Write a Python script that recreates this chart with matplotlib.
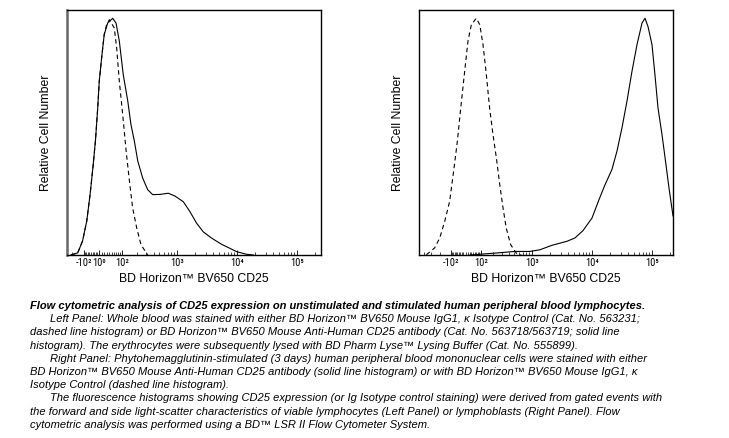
import numpy as np
import matplotlib
matplotlib.use('Agg')
import matplotlib.pyplot as plt
from matplotlib import font_manager

plt.rcParams['font.family'] = ['Liberation Sans', 'DejaVu Sans']


def find_narrow_font():
    # look for any condensed / narrow sans face on the system
    for fam in ['Liberation Sans Narrow', 'Noto Sans Condensed', 'DejaVu Sans Condensed',
                'Roboto Condensed', 'Open Sans Condensed']:
        try:
            path = font_manager.findfont(font_manager.FontProperties(family=fam),
                                         fallback_to_default=False)
            return font_manager.FontProperties(fname=path)
        except ValueError:
            pass
    for fam in ['Noto Sans', 'DejaVu Sans', 'Roboto', 'Open Sans']:
        path = font_manager.findfont(font_manager.FontProperties(family=fam, stretch='condensed'))
        if 'ondensed' in path or 'Narrow' in path:
            return font_manager.FontProperties(fname=path)
    return None


narrow = find_narrow_font()

# Left panel (unstimulated whole blood), fluorescence vs relative count
left_solid_x = [-208, -146, -108, -78, -56, -38, -22, -8, 1, 10, 20, 34, 55, 70, 86,
                107, 134, 156, 181, 210, 258, 316, 386, 515, 711, 921, 1270, 1640,
                2120, 2730, 3780, 5550, 7620, 9860, 14500, 18600]
left_solid_y = [0, 0.9, 5.9, 14.4, 25.5, 36.8, 48.2, 62.1, 73.5, 83.2, 93.1, 98.0, 100,
                98.0, 90.4, 76.2, 65.1, 55.0, 48.2, 39.7, 32.5, 27.6, 25.5, 25.6, 26.1,
                24.9, 22.5, 18.3, 13.4, 9.8, 7.1, 4.5, 2.8, 1.4, 0.3, 0]
left_dash_x = [-208, -146, -108, -78, -56, -38, -22, -8, 1, 10, 20, 30, 41, 62, 73, 86,
               104, 124, 145, 168, 201, 240, 316]
left_dash_y = [0, 0.9, 5.9, 14.4, 25.5, 36.8, 48.2, 62.1, 73.5, 83.2, 93.1, 97.5, 99.4,
               95.9, 87.5, 73.5, 59.3, 43.9, 31.3, 19.9, 11.4, 4.4, 0]

# Right panel (PHA-stimulated PBMC)
right_dash_x = [-368, -254, -198, -150, -108, -74, -50, -26, 1, 20, 40, 70, 93, 116,
                141, 168, 199, 233, 271, 312, 357, 428, 536, 655]
right_dash_y = [0.1, 3.0, 7.2, 14.2, 22.7, 36.8, 48.0, 62.1, 77.6, 90.3, 97.3, 100,
                97.3, 88.8, 76.2, 62.1, 50.8, 41.0, 29.7, 19.9, 11.4, 4.4, 0.8, 0]
right_solid_x = [32, 219, 510, 914, 1350, 2150, 3830, 5200, 7080, 9990, 13100, 16500,
                 21500, 26100, 31600, 38300, 46400, 56300, 68200, 76500, 85900, 100000,
                 112000, 126000, 147000, 171000, 192000, 224000]
right_solid_y = [0, 0.8, 1.5, 1.5, 2.2, 4.1, 5.8, 7.2, 10.3, 15.6, 23.4, 29.7, 36.1,
                 43.9, 53.7, 65.0, 77.6, 88.9, 98.0, 100, 96.5, 88.9, 76.2, 62.1, 50.8,
                 38.2, 28.3, 16.5]

left_ticks = [-100, 0, 100, 1000, 10000, 100000]
right_ticks = [-100, 100, 1000, 10000, 100000]
if narrow is not None:
    left_labels = ['-10²', '10⁰', '10²', '10³', '10⁴', '10⁵']
    right_labels = ['-10²', '10²', '10³', '10⁴', '10⁵']
    tick_size = 7.5
else:
    plt.rcParams['mathtext.fontset'] = 'custom'
    plt.rcParams['mathtext.rm'] = 'Liberation Sans'
    left_labels = ['-$10^{2}$', '$10^{0}$', '$10^{2}$', '$10^{3}$', '$10^{4}$', '$10^{5}$']
    right_labels = ['-$10^{2}$', '$10^{2}$', '$10^{3}$', '$10^{4}$', '$10^{5}$']
    tick_size = 6.0

x_label = 'BD Horizon™ BV650 CD25'
y_label = 'Relative Cell Number'

caption = [
    ('Flow cytometric analysis of CD25 expression on unstimulated and stimulated human peripheral blood lymphocytes.', False, True),
    ('Left Panel: Whole blood was stained with either BD Horizon™ BV650 Mouse IgG1, κ Isotype Control (Cat. No. 563231;', True, False),
    ('dashed line histogram) or BD Horizon™ BV650 Mouse Anti-Human CD25 antibody (Cat. No. 563718/563719; solid line', False, False),
    ('histogram). The erythrocytes were subsequently lysed with BD Pharm Lyse™ Lysing Buffer (Cat. No. 555899).', False, False),
    ('Right Panel: Phytohemagglutinin-stimulated (3 days) human peripheral blood mononuclear cells were stained with either', True, False),
    ('BD Horizon™ BV650 Mouse Anti-Human CD25 antibody (solid line histogram) or with BD Horizon™ BV650 Mouse IgG1, κ', False, False),
    ('Isotype Control (dashed line histogram).', False, False),
    ('The fluorescence histograms showing CD25 expression (or Ig Isotype control staining) were derived from gated events with', True, False),
    ('the forward and side light-scatter characteristics of viable lymphocytes (Left Panel) or lymphoblasts (Right Panel). Flow', False, False),
    ('cytometric analysis was performed using a BD™ LSR II Flow Cytometer System.', False, False),
]


def minor_positions():
    pos = [s * m * 10 for s in (-1, 1) for m in range(1, 10)]
    for k in (2, 3, 4, 5):
        pos += [s * m * 10 ** k for s in (-1, 1) for m in range(2, 10)]
    return pos


def logicle_like(cp, cn):
    # asinh display, separate width for the negative side
    def fwd(x):
        x = np.asarray(x, dtype=float)
        return np.where(x < 0, np.arcsinh(x / cn), np.arcsinh(x / cp))

    def inv(u):
        u = np.asarray(u, dtype=float)
        return np.where(u < 0, cn * np.sinh(u), cp * np.sinh(u))
    return fwd, inv


def setup_panel(ax, cp, cn, xlim, ticks, labels):
    ax.set_xscale('function', functions=logicle_like(cp, cn))
    ax.set_xlim(*xlim)
    ax.set_ylim(0, 103.5)
    ax.set_yticks([])
    ax.set_xticks(ticks)
    ax.set_xticklabels(labels)
    ax.set_xticks([p for p in minor_positions() if xlim[0] < p < xlim[1]], minor=True)
    ax.tick_params(axis='x', which='major', direction='in', length=3.5, width=0.6, pad=2)
    ax.tick_params(axis='x', which='minor', direction='in', length=2, width=0.5)
    for lab in ax.get_xticklabels():
        if narrow is not None:
            lab.set_fontproperties(narrow)
        lab.set_fontsize(tick_size)
    for sp in ax.spines.values():
        sp.set_linewidth(1.0)
    ax.set_xlabel(x_label, fontsize=8.8)
    ax.set_ylabel(y_label, fontsize=8.8)
    ax.xaxis.set_label_coords(0.5, -0.1)
    ax.xaxis.label.set_va('center')
    ax.yaxis.set_label_coords(-0.083, 0.5)
    ax.yaxis.label.set_va('center')


fig = plt.figure(figsize=(7.29, 4.38), dpi=100)
ax1 = fig.add_axes([67 / 729, 1 - 255 / 438, 254 / 729, 245 / 438])
ax2 = fig.add_axes([419 / 729, 1 - 255 / 438, 254 / 729, 245 / 438])

ax1.plot(left_solid_x, left_solid_y, color='black', lw=0.8)
ax1.plot(left_dash_x, left_dash_y, color='black', lw=0.8, dashes=(4, 3))
setup_panel(ax1, 100, 160, (-250, 251000), left_ticks, left_labels)
ax1.spines['left'].set_color('#666666')
ax1.spines['left'].set_linewidth(1.8)

ax2.plot(right_solid_x, right_solid_y, color='black', lw=0.8)
ax2.plot(right_dash_x, right_dash_y, color='black', lw=0.8, dashes=(4, 3))
setup_panel(ax2, 150, 180, (-500, 224000), right_ticks, right_labels)

# caption block under the panels
y = 306
for text, indent, bold in caption:
    x = 50 if indent else 30
    fig.text(x / 729, 1 - y / 438, text, fontsize=8.0, style='italic',
             weight='bold' if bold else 'normal', va='center', ha='left')
    y += 13.2

fig.savefig('out.png', dpi=100)
